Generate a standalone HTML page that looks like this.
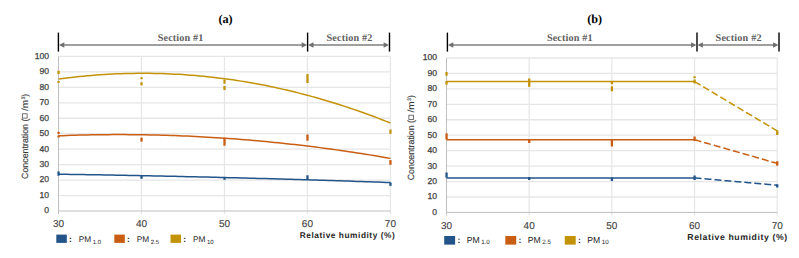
<!DOCTYPE html><html><head><meta charset="utf-8"><style>
html,body{margin:0;padding:0;background:#fff;width:799px;height:258px;overflow:hidden}
svg{display:block;text-rendering:geometricPrecision}
.tk{font-family:"Liberation Sans",sans-serif;font-size:8.6px;fill:#404040;stroke:#404040;stroke-width:0.25px}
.tkx{font-family:"Liberation Sans",sans-serif;font-size:10px;fill:#404040;stroke:#404040;stroke-width:0.12px}
.ttl{font-family:"Liberation Serif",serif;font-size:12.2px;font-weight:bold;fill:#000}
.sec{font-family:"Liberation Serif",serif;font-size:10.2px;font-weight:bold;fill:#5f5f5f}
.yt{font-family:"Liberation Sans",sans-serif;fill:#3a3a3a;stroke:#3a3a3a;stroke-width:0.15px}
.lg{font-family:"Liberation Sans",sans-serif;fill:#262626}
.rh{font-family:"Liberation Sans",sans-serif;font-weight:bold;fill:#262626}
</style></head><body>
<svg width="799" height="258" viewBox="0 0 799 258">
<line x1="58.50" y1="195.54" x2="390.40" y2="195.54" stroke="#E6E6E6" stroke-width="1.3"/>
<line x1="58.50" y1="180.08" x2="390.40" y2="180.08" stroke="#E6E6E6" stroke-width="1.3"/>
<line x1="58.50" y1="164.62" x2="390.40" y2="164.62" stroke="#E6E6E6" stroke-width="1.3"/>
<line x1="58.50" y1="149.16" x2="390.40" y2="149.16" stroke="#E6E6E6" stroke-width="1.3"/>
<line x1="58.50" y1="133.70" x2="390.40" y2="133.70" stroke="#E6E6E6" stroke-width="1.3"/>
<line x1="58.50" y1="118.24" x2="390.40" y2="118.24" stroke="#E6E6E6" stroke-width="1.3"/>
<line x1="58.50" y1="102.78" x2="390.40" y2="102.78" stroke="#E6E6E6" stroke-width="1.3"/>
<line x1="58.50" y1="87.32" x2="390.40" y2="87.32" stroke="#E6E6E6" stroke-width="1.3"/>
<line x1="58.50" y1="71.86" x2="390.40" y2="71.86" stroke="#E6E6E6" stroke-width="1.3"/>
<line x1="58.50" y1="56.40" x2="390.40" y2="56.40" stroke="#E6E6E6" stroke-width="1.3"/>
<line x1="141.47" y1="56.40" x2="141.47" y2="214.00" stroke="#E6E6E6" stroke-width="1.2"/>
<line x1="224.45" y1="56.40" x2="224.45" y2="214.00" stroke="#E6E6E6" stroke-width="1.2"/>
<line x1="307.42" y1="56.40" x2="307.42" y2="214.00" stroke="#E6E6E6" stroke-width="1.2"/>
<line x1="390.40" y1="56.40" x2="390.40" y2="214.00" stroke="#E6E6E6" stroke-width="1.2"/>
<line x1="58.50" y1="56.40" x2="58.50" y2="214.00" stroke="#BFBFBF" stroke-width="1"/>
<line x1="58.50" y1="211.00" x2="390.40" y2="211.00" stroke="#BFBFBF" stroke-width="1"/>
<text x="49.00" y="213.40" text-anchor="end" class="tk">0</text>
<text x="49.00" y="197.94" text-anchor="end" class="tk">10</text>
<text x="49.00" y="182.48" text-anchor="end" class="tk">20</text>
<text x="49.00" y="167.02" text-anchor="end" class="tk">30</text>
<text x="49.00" y="151.56" text-anchor="end" class="tk">40</text>
<text x="49.00" y="136.10" text-anchor="end" class="tk">50</text>
<text x="49.00" y="120.64" text-anchor="end" class="tk">60</text>
<text x="49.00" y="105.18" text-anchor="end" class="tk">70</text>
<text x="49.00" y="89.72" text-anchor="end" class="tk">80</text>
<text x="49.00" y="74.26" text-anchor="end" class="tk">90</text>
<text x="49.00" y="58.80" text-anchor="end" class="tk">100</text>
<text x="58.50" y="227.20" text-anchor="middle" class="tkx">30</text>
<text x="141.47" y="227.20" text-anchor="middle" class="tkx">40</text>
<text x="224.45" y="227.20" text-anchor="middle" class="tkx">50</text>
<text x="307.42" y="227.20" text-anchor="middle" class="tkx">60</text>
<text x="390.40" y="227.20" text-anchor="middle" class="tkx">70</text>
<text x="225.50" y="23" text-anchor="middle" class="ttl">(a)</text>
<line x1="58.40" y1="32.6" x2="58.40" y2="51.6" stroke="#000" stroke-width="1.4"/>
<line x1="307.60" y1="32.6" x2="307.60" y2="51.6" stroke="#000" stroke-width="1.4"/>
<line x1="389.50" y1="32.6" x2="389.50" y2="51.6" stroke="#000" stroke-width="1.4"/>
<line x1="61.40" y1="45.0" x2="304.60" y2="45.0" stroke="#7F7F7F" stroke-width="1.4"/>
<path d="M58.90,45.0 L64.30,42.2 L64.30,47.8 Z" fill="#6F6F6F"/>
<path d="M307.10,45.0 L301.70,42.2 L301.70,47.8 Z" fill="#6F6F6F"/>
<line x1="310.60" y1="45.0" x2="386.50" y2="45.0" stroke="#7F7F7F" stroke-width="1.4"/>
<path d="M308.10,45.0 L313.50,42.2 L313.50,47.8 Z" fill="#6F6F6F"/>
<path d="M389.00,45.0 L383.60,42.2 L383.60,47.8 Z" fill="#6F6F6F"/>
<text x="157.70" y="40.9" class="sec" textLength="45.6" lengthAdjust="spacing">Section #1</text>
<text x="326.50" y="40.9" class="sec" textLength="45.9" lengthAdjust="spacing">Section #2</text>
<text transform="translate(27.70,178.90) rotate(-90)" class="yt" font-size="9.0px" textLength="60.30" lengthAdjust="spacingAndGlyphs">Concentration (</text>
<rect x="22.50" y="113.80" width="4.6" height="4.3" fill="none" stroke="#505050" stroke-width="0.8"/>
<text transform="translate(27.70,111.10) rotate(-90)" class="yt" font-size="9.0px" textLength="11.20" lengthAdjust="spacingAndGlyphs">/m</text>
<text transform="translate(24.70,99.30) rotate(-90)" class="yt" font-size="5.2px" textLength="2.60" lengthAdjust="spacingAndGlyphs">3</text>
<text transform="translate(27.70,96.70) rotate(-90)" class="yt" font-size="9.0px" textLength="2.90" lengthAdjust="spacingAndGlyphs">)</text>
<rect x="56.30" y="234.60" width="10.50" height="8.30" fill="#235489"/>
<text x="69.00" y="242.20" class="lg" font-weight="bold" font-size="8.30px">:</text>
<text x="78.80" y="242.20" class="lg" font-size="8.30px">PM<tspan dx="1.5" dy="1.5" font-size="6.00px">1.0</tspan></text>
<rect x="114.30" y="234.60" width="10.50" height="8.30" fill="#C95D13"/>
<text x="127.00" y="242.20" class="lg" font-weight="bold" font-size="8.30px">:</text>
<text x="136.80" y="242.20" class="lg" font-size="8.30px">PM<tspan dx="1.5" dy="1.5" font-size="6.00px">2.5</tspan></text>
<rect x="170.50" y="234.60" width="10.50" height="8.30" fill="#C29308"/>
<text x="183.20" y="242.20" class="lg" font-weight="bold" font-size="8.30px">:</text>
<text x="193.00" y="242.20" class="lg" font-size="8.30px">PM<tspan dx="1.5" dy="1.5" font-size="6.00px">10</tspan></text>
<text x="299.80" y="238.00" class="rh" font-size="8.30px" letter-spacing="0.55px">Relative humidity (%)</text>
<line x1="446.50" y1="196.99" x2="777.20" y2="196.99" stroke="#E6E6E6" stroke-width="1.3"/>
<line x1="446.50" y1="181.54" x2="777.20" y2="181.54" stroke="#E6E6E6" stroke-width="1.3"/>
<line x1="446.50" y1="166.10" x2="777.20" y2="166.10" stroke="#E6E6E6" stroke-width="1.3"/>
<line x1="446.50" y1="150.65" x2="777.20" y2="150.65" stroke="#E6E6E6" stroke-width="1.3"/>
<line x1="446.50" y1="135.21" x2="777.20" y2="135.21" stroke="#E6E6E6" stroke-width="1.3"/>
<line x1="446.50" y1="119.77" x2="777.20" y2="119.77" stroke="#E6E6E6" stroke-width="1.3"/>
<line x1="446.50" y1="104.32" x2="777.20" y2="104.32" stroke="#E6E6E6" stroke-width="1.3"/>
<line x1="446.50" y1="88.88" x2="777.20" y2="88.88" stroke="#E6E6E6" stroke-width="1.3"/>
<line x1="446.50" y1="73.43" x2="777.20" y2="73.43" stroke="#E6E6E6" stroke-width="1.3"/>
<line x1="446.50" y1="57.99" x2="777.20" y2="57.99" stroke="#E6E6E6" stroke-width="1.3"/>
<line x1="529.17" y1="57.99" x2="529.17" y2="215.43" stroke="#E6E6E6" stroke-width="1.2"/>
<line x1="611.85" y1="57.99" x2="611.85" y2="215.43" stroke="#E6E6E6" stroke-width="1.2"/>
<line x1="694.53" y1="57.99" x2="694.53" y2="215.43" stroke="#E6E6E6" stroke-width="1.2"/>
<line x1="777.20" y1="57.99" x2="777.20" y2="215.43" stroke="#E6E6E6" stroke-width="1.2"/>
<line x1="446.50" y1="57.99" x2="446.50" y2="215.43" stroke="#BFBFBF" stroke-width="1"/>
<line x1="446.50" y1="212.43" x2="777.20" y2="212.43" stroke="#BFBFBF" stroke-width="1"/>
<text x="437.00" y="214.83" text-anchor="end" class="tk">0</text>
<text x="437.00" y="199.39" text-anchor="end" class="tk">10</text>
<text x="437.00" y="183.94" text-anchor="end" class="tk">20</text>
<text x="437.00" y="168.50" text-anchor="end" class="tk">30</text>
<text x="437.00" y="153.05" text-anchor="end" class="tk">40</text>
<text x="437.00" y="137.61" text-anchor="end" class="tk">50</text>
<text x="437.00" y="122.17" text-anchor="end" class="tk">60</text>
<text x="437.00" y="106.72" text-anchor="end" class="tk">70</text>
<text x="437.00" y="91.28" text-anchor="end" class="tk">80</text>
<text x="437.00" y="75.83" text-anchor="end" class="tk">90</text>
<text x="437.00" y="60.39" text-anchor="end" class="tk">100</text>
<text x="446.50" y="228.63" text-anchor="middle" class="tkx">30</text>
<text x="529.17" y="228.63" text-anchor="middle" class="tkx">40</text>
<text x="611.85" y="228.63" text-anchor="middle" class="tkx">50</text>
<text x="694.53" y="228.63" text-anchor="middle" class="tkx">60</text>
<text x="777.20" y="228.63" text-anchor="middle" class="tkx">70</text>
<text x="594.70" y="23" text-anchor="middle" class="ttl">(b)</text>
<line x1="447.40" y1="32.6" x2="447.40" y2="51.6" stroke="#000" stroke-width="1.4"/>
<line x1="697.00" y1="32.6" x2="697.00" y2="51.6" stroke="#000" stroke-width="1.4"/>
<line x1="779.00" y1="32.6" x2="779.00" y2="51.6" stroke="#000" stroke-width="1.4"/>
<line x1="450.40" y1="45.0" x2="694.00" y2="45.0" stroke="#7F7F7F" stroke-width="1.4"/>
<path d="M447.90,45.0 L453.30,42.2 L453.30,47.8 Z" fill="#6F6F6F"/>
<path d="M696.50,45.0 L691.10,42.2 L691.10,47.8 Z" fill="#6F6F6F"/>
<line x1="700.00" y1="45.0" x2="776.00" y2="45.0" stroke="#7F7F7F" stroke-width="1.4"/>
<path d="M697.50,45.0 L702.90,42.2 L702.90,47.8 Z" fill="#6F6F6F"/>
<path d="M778.50,45.0 L773.10,42.2 L773.10,47.8 Z" fill="#6F6F6F"/>
<text x="546.90" y="40.9" class="sec" textLength="45.6" lengthAdjust="spacing">Section #1</text>
<text x="715.60" y="40.9" class="sec" textLength="45.9" lengthAdjust="spacing">Section #2</text>
<text transform="translate(414.10,180.30) rotate(-90)" class="yt" font-size="9.0px" textLength="60.30" lengthAdjust="spacingAndGlyphs">Concentration (</text>
<rect x="408.90" y="115.20" width="4.6" height="4.3" fill="none" stroke="#505050" stroke-width="0.8"/>
<text transform="translate(414.10,112.50) rotate(-90)" class="yt" font-size="9.0px" textLength="11.20" lengthAdjust="spacingAndGlyphs">/m</text>
<text transform="translate(411.10,100.70) rotate(-90)" class="yt" font-size="5.2px" textLength="2.60" lengthAdjust="spacingAndGlyphs">3</text>
<text transform="translate(414.10,98.10) rotate(-90)" class="yt" font-size="9.0px" textLength="2.90" lengthAdjust="spacingAndGlyphs">)</text>
<rect x="444.20" y="236.00" width="10.92" height="8.63" fill="#235489"/>
<text x="457.42" y="242.90" class="lg" font-weight="bold" font-size="8.63px">:</text>
<text x="466.70" y="242.90" class="lg" font-size="8.63px">PM<tspan dx="1.5" dy="1.5" font-size="6.24px">1.0</tspan></text>
<rect x="505.30" y="236.00" width="10.92" height="8.63" fill="#C95D13"/>
<text x="518.52" y="242.90" class="lg" font-weight="bold" font-size="8.63px">:</text>
<text x="527.80" y="242.90" class="lg" font-size="8.63px">PM<tspan dx="1.5" dy="1.5" font-size="6.24px">2.5</tspan></text>
<rect x="564.80" y="236.00" width="10.92" height="8.63" fill="#C29308"/>
<text x="578.02" y="242.90" class="lg" font-weight="bold" font-size="8.63px">:</text>
<text x="587.30" y="242.90" class="lg" font-size="8.63px">PM<tspan dx="1.5" dy="1.5" font-size="6.24px">10</tspan></text>
<text x="687.30" y="240.00" class="rh" font-size="8.70px" letter-spacing="0.60px">Relative humidity (%)</text>
<path d="M58.50,79.09 L62.65,78.53 L66.80,78.01 L70.95,77.51 L75.09,77.04 L79.24,76.60 L83.39,76.18 L87.54,75.80 L91.69,75.44 L95.84,75.11 L99.99,74.80 L104.14,74.53 L108.28,74.28 L112.43,74.06 L116.58,73.87 L120.73,73.71 L124.88,73.57 L129.03,73.47 L133.18,73.39 L137.33,73.33 L141.47,73.31 L145.62,73.32 L149.77,73.35 L153.92,73.41 L158.07,73.50 L162.22,73.61 L166.37,73.76 L170.52,73.93 L174.66,74.13 L178.81,74.36 L182.96,74.61 L187.11,74.90 L191.26,75.21 L195.41,75.55 L199.56,75.91 L203.71,76.31 L207.85,76.73 L212.00,77.18 L216.15,77.66 L220.30,78.17 L224.45,78.71 L228.60,79.27 L232.75,79.86 L236.90,80.48 L241.05,81.13 L245.19,81.80 L249.34,82.50 L253.49,83.23 L257.64,83.99 L261.79,84.78 L265.94,85.59 L270.09,86.44 L274.24,87.31 L278.38,88.20 L282.53,89.13 L286.68,90.09 L290.83,91.07 L294.98,92.08 L299.13,93.12 L303.28,94.18 L307.42,95.27 L311.57,96.40 L315.72,97.55 L319.87,98.72 L324.02,99.93 L328.17,101.16 L332.32,102.42 L336.47,103.71 L340.61,105.03 L344.76,106.38 L348.91,107.75 L353.06,109.15 L357.21,110.58 L361.36,112.04 L365.51,113.52 L369.66,115.03 L373.80,116.57 L377.95,118.14 L382.10,119.74 L386.25,121.36 L390.40,123.02" fill="none" stroke="#C29308" stroke-width="1.5"/>
<path d="M58.50,135.79 L62.65,135.63 L66.80,135.48 L70.95,135.35 L75.09,135.22 L79.24,135.11 L83.39,135.01 L87.54,134.92 L91.69,134.84 L95.84,134.77 L99.99,134.72 L104.14,134.67 L108.28,134.64 L112.43,134.61 L116.58,134.60 L120.73,134.60 L124.88,134.61 L129.03,134.63 L133.18,134.66 L137.33,134.71 L141.47,134.76 L145.62,134.83 L149.77,134.90 L153.92,134.99 L158.07,135.09 L162.22,135.20 L166.37,135.32 L170.52,135.45 L174.66,135.60 L178.81,135.75 L182.96,135.92 L187.11,136.09 L191.26,136.28 L195.41,136.48 L199.56,136.69 L203.71,136.91 L207.85,137.15 L212.00,137.39 L216.15,137.64 L220.30,137.91 L224.45,138.19 L228.60,138.47 L232.75,138.77 L236.90,139.08 L241.05,139.41 L245.19,139.74 L249.34,140.08 L253.49,140.44 L257.64,140.80 L261.79,141.18 L265.94,141.57 L270.09,141.97 L274.24,142.38 L278.38,142.80 L282.53,143.23 L286.68,143.67 L290.83,144.13 L294.98,144.60 L299.13,145.07 L303.28,145.56 L307.42,146.06 L311.57,146.57 L315.72,147.09 L319.87,147.62 L324.02,148.17 L328.17,148.72 L332.32,149.29 L336.47,149.87 L340.61,150.45 L344.76,151.05 L348.91,151.66 L353.06,152.29 L357.21,152.92 L361.36,153.56 L365.51,154.22 L369.66,154.88 L373.80,155.56 L377.95,156.25 L382.10,156.95 L386.25,157.66 L390.40,158.38" fill="none" stroke="#C95D13" stroke-width="1.5"/>
<path d="M58.50,174.20 L62.65,174.26 L66.80,174.33 L70.95,174.39 L75.09,174.46 L79.24,174.52 L83.39,174.59 L87.54,174.66 L91.69,174.73 L95.84,174.80 L99.99,174.87 L104.14,174.94 L108.28,175.02 L112.43,175.09 L116.58,175.17 L120.73,175.25 L124.88,175.33 L129.03,175.41 L133.18,175.49 L137.33,175.57 L141.47,175.65 L145.62,175.73 L149.77,175.82 L153.92,175.90 L158.07,175.99 L162.22,176.08 L166.37,176.17 L170.52,176.26 L174.66,176.35 L178.81,176.44 L182.96,176.53 L187.11,176.63 L191.26,176.72 L195.41,176.82 L199.56,176.92 L203.71,177.01 L207.85,177.11 L212.00,177.21 L216.15,177.32 L220.30,177.42 L224.45,177.52 L228.60,177.63 L232.75,177.73 L236.90,177.84 L241.05,177.95 L245.19,178.06 L249.34,178.17 L253.49,178.28 L257.64,178.39 L261.79,178.50 L265.94,178.62 L270.09,178.73 L274.24,178.85 L278.38,178.97 L282.53,179.08 L286.68,179.20 L290.83,179.32 L294.98,179.45 L299.13,179.57 L303.28,179.69 L307.42,179.82 L311.57,179.94 L315.72,180.07 L319.87,180.20 L324.02,180.33 L328.17,180.46 L332.32,180.59 L336.47,180.72 L340.61,180.85 L344.76,180.99 L348.91,181.12 L353.06,181.26 L357.21,181.40 L361.36,181.54 L365.51,181.68 L369.66,181.82 L373.80,181.96 L377.95,182.10 L382.10,182.24 L386.25,182.39 L390.40,182.53" fill="none" stroke="#235489" stroke-width="1.5"/>
<rect x="57.40" y="70.80" width="2.3" height="3.30" fill="#C29308"/>
<rect x="57.40" y="81.00" width="2.3" height="2.00" fill="#C29308"/>
<rect x="140.38" y="77.20" width="2.3" height="2.00" fill="#C29308"/>
<rect x="140.38" y="82.20" width="2.3" height="3.10" fill="#C29308"/>
<rect x="223.35" y="79.60" width="2.3" height="4.10" fill="#C29308"/>
<rect x="223.35" y="86.00" width="2.3" height="4.10" fill="#C29308"/>
<rect x="306.32" y="74.10" width="2.3" height="8.90" fill="#C29308"/>
<rect x="389.30" y="129.50" width="2.3" height="4.30" fill="#C29308"/>
<rect x="57.40" y="131.80" width="2.3" height="2.20" fill="#C95D13"/>
<rect x="57.40" y="135.50" width="2.3" height="2.00" fill="#C95D13"/>
<rect x="140.38" y="137.60" width="2.3" height="4.00" fill="#C95D13"/>
<rect x="223.35" y="137.80" width="2.3" height="7.90" fill="#C95D13"/>
<rect x="306.32" y="134.50" width="2.3" height="6.20" fill="#C95D13"/>
<rect x="389.30" y="160.10" width="2.3" height="4.70" fill="#C95D13"/>
<rect x="57.40" y="171.40" width="2.3" height="4.30" fill="#235489"/>
<rect x="140.38" y="176.00" width="2.3" height="2.80" fill="#235489"/>
<rect x="223.35" y="177.00" width="2.3" height="2.80" fill="#235489"/>
<rect x="306.32" y="175.30" width="2.3" height="4.50" fill="#235489"/>
<rect x="389.30" y="182.50" width="2.3" height="3.40" fill="#235489"/>
<path d="M446.50,81.54 L449.60,81.54 L452.70,81.54 L455.80,81.54 L458.90,81.54 L462.00,81.54 L465.10,81.54 L468.20,81.54 L471.30,81.54 L474.40,81.54 L477.50,81.54 L480.60,81.54 L483.70,81.54 L486.80,81.54 L489.90,81.54 L493.00,81.54 L496.11,81.54 L499.21,81.54 L502.31,81.54 L505.41,81.54 L508.51,81.54 L511.61,81.54 L514.71,81.54 L517.81,81.54 L520.91,81.54 L524.01,81.54 L527.11,81.54 L530.21,81.54 L533.31,81.54 L536.41,81.54 L539.51,81.54 L542.61,81.54 L545.71,81.54 L548.81,81.54 L551.91,81.54 L555.01,81.54 L558.11,81.54 L561.21,81.54 L564.31,81.54 L567.41,81.54 L570.51,81.54 L573.61,81.54 L576.71,81.54 L579.81,81.54 L582.91,81.54 L586.01,81.54 L589.11,81.54 L592.21,81.54 L595.32,81.54 L598.42,81.54 L601.52,81.54 L604.62,81.54 L607.72,81.54 L610.82,81.54 L613.92,81.54 L617.02,81.54 L620.12,81.54 L623.22,81.54 L626.32,81.54 L629.42,81.54 L632.52,81.54 L635.62,81.54 L638.72,81.54 L641.82,81.54 L644.92,81.54 L648.02,81.54 L651.12,81.54 L654.22,81.54 L657.32,81.54 L660.42,81.54 L663.52,81.54 L666.62,81.54 L669.72,81.54 L672.82,81.54 L675.92,81.54 L679.02,81.54 L682.12,81.54 L685.22,81.54 L688.32,81.54 L691.42,81.54 L694.53,81.54" fill="none" stroke="#C29308" stroke-width="1.5"/>
<path d="M694.53,81.54 L695.56,82.16 L696.59,82.78 L697.63,83.39 L698.66,84.01 L699.69,84.63 L700.73,85.24 L701.76,85.86 L702.79,86.48 L703.83,87.09 L704.86,87.71 L705.89,88.33 L706.93,88.95 L707.96,89.56 L708.99,90.18 L710.03,90.80 L711.06,91.41 L712.09,92.03 L713.13,92.65 L714.16,93.26 L715.19,93.88 L716.23,94.50 L717.26,95.12 L718.29,95.73 L719.33,96.35 L720.36,96.97 L721.39,97.58 L722.43,98.20 L723.46,98.82 L724.49,99.43 L725.53,100.05 L726.56,100.67 L727.60,101.29 L728.63,101.90 L729.66,102.52 L730.70,103.14 L731.73,103.75 L732.76,104.37 L733.80,104.99 L734.83,105.60 L735.86,106.22 L736.90,106.84 L737.93,107.46 L738.96,108.07 L740.00,108.69 L741.03,109.31 L742.06,109.92 L743.10,110.54 L744.13,111.16 L745.16,111.77 L746.20,112.39 L747.23,113.01 L748.26,113.63 L749.30,114.24 L750.33,114.86 L751.36,115.48 L752.40,116.09 L753.43,116.71 L754.46,117.33 L755.50,117.94 L756.53,118.56 L757.56,119.18 L758.60,119.80 L759.63,120.41 L760.66,121.03 L761.70,121.65 L762.73,122.26 L763.77,122.88 L764.80,123.50 L765.83,124.11 L766.87,124.73 L767.90,125.35 L768.93,125.97 L769.97,126.58 L771.00,127.20 L772.03,127.82 L773.07,128.43 L774.10,129.05 L775.13,129.67 L776.17,130.28 L777.20,130.90" fill="none" stroke="#C29308" stroke-width="1.5" stroke-dasharray="7,3"/>
<path d="M446.50,139.70 L449.60,139.70 L452.70,139.70 L455.80,139.70 L458.90,139.70 L462.00,139.70 L465.10,139.70 L468.20,139.70 L471.30,139.70 L474.40,139.70 L477.50,139.70 L480.60,139.70 L483.70,139.70 L486.80,139.70 L489.90,139.70 L493.00,139.70 L496.11,139.70 L499.21,139.70 L502.31,139.70 L505.41,139.70 L508.51,139.70 L511.61,139.70 L514.71,139.70 L517.81,139.70 L520.91,139.70 L524.01,139.70 L527.11,139.70 L530.21,139.70 L533.31,139.70 L536.41,139.70 L539.51,139.70 L542.61,139.70 L545.71,139.70 L548.81,139.70 L551.91,139.70 L555.01,139.70 L558.11,139.70 L561.21,139.70 L564.31,139.70 L567.41,139.70 L570.51,139.70 L573.61,139.70 L576.71,139.70 L579.81,139.70 L582.91,139.70 L586.01,139.70 L589.11,139.70 L592.21,139.70 L595.32,139.70 L598.42,139.70 L601.52,139.70 L604.62,139.70 L607.72,139.70 L610.82,139.70 L613.92,139.70 L617.02,139.70 L620.12,139.70 L623.22,139.70 L626.32,139.70 L629.42,139.70 L632.52,139.70 L635.62,139.70 L638.72,139.70 L641.82,139.70 L644.92,139.70 L648.02,139.70 L651.12,139.70 L654.22,139.70 L657.32,139.70 L660.42,139.70 L663.52,139.70 L666.62,139.70 L669.72,139.70 L672.82,139.70 L675.92,139.70 L679.02,139.70 L682.12,139.70 L685.22,139.70 L688.32,139.70 L691.42,139.70 L694.53,139.70" fill="none" stroke="#C95D13" stroke-width="1.5"/>
<path d="M694.53,139.70 L695.56,140.00 L696.59,140.30 L697.63,140.59 L698.66,140.89 L699.69,141.18 L700.73,141.48 L701.76,141.78 L702.79,142.07 L703.83,142.37 L704.86,142.67 L705.89,142.96 L706.93,143.26 L707.96,143.55 L708.99,143.85 L710.03,144.15 L711.06,144.44 L712.09,144.74 L713.13,145.03 L714.16,145.33 L715.19,145.63 L716.23,145.92 L717.26,146.22 L718.29,146.52 L719.33,146.81 L720.36,147.11 L721.39,147.40 L722.43,147.70 L723.46,148.00 L724.49,148.29 L725.53,148.59 L726.56,148.88 L727.60,149.18 L728.63,149.48 L729.66,149.77 L730.70,150.07 L731.73,150.37 L732.76,150.66 L733.80,150.96 L734.83,151.25 L735.86,151.55 L736.90,151.85 L737.93,152.14 L738.96,152.44 L740.00,152.73 L741.03,153.03 L742.06,153.33 L743.10,153.62 L744.13,153.92 L745.16,154.22 L746.20,154.51 L747.23,154.81 L748.26,155.10 L749.30,155.40 L750.33,155.70 L751.36,155.99 L752.40,156.29 L753.43,156.58 L754.46,156.88 L755.50,157.18 L756.53,157.47 L757.56,157.77 L758.60,158.06 L759.63,158.36 L760.66,158.66 L761.70,158.95 L762.73,159.25 L763.77,159.55 L764.80,159.84 L765.83,160.14 L766.87,160.43 L767.90,160.73 L768.93,161.03 L769.97,161.32 L771.00,161.62 L772.03,161.91 L773.07,162.21 L774.10,162.51 L775.13,162.80 L776.17,163.10 L777.20,163.40" fill="none" stroke="#C95D13" stroke-width="1.5" stroke-dasharray="7,3"/>
<path d="M446.50,177.90 L449.60,177.90 L452.70,177.90 L455.80,177.90 L458.90,177.90 L462.00,177.90 L465.10,177.90 L468.20,177.90 L471.30,177.90 L474.40,177.90 L477.50,177.90 L480.60,177.90 L483.70,177.90 L486.80,177.90 L489.90,177.90 L493.00,177.90 L496.11,177.90 L499.21,177.90 L502.31,177.90 L505.41,177.90 L508.51,177.90 L511.61,177.90 L514.71,177.90 L517.81,177.90 L520.91,177.90 L524.01,177.90 L527.11,177.90 L530.21,177.90 L533.31,177.90 L536.41,177.90 L539.51,177.90 L542.61,177.90 L545.71,177.90 L548.81,177.90 L551.91,177.90 L555.01,177.90 L558.11,177.90 L561.21,177.90 L564.31,177.90 L567.41,177.90 L570.51,177.90 L573.61,177.90 L576.71,177.90 L579.81,177.90 L582.91,177.90 L586.01,177.90 L589.11,177.90 L592.21,177.90 L595.32,177.90 L598.42,177.90 L601.52,177.90 L604.62,177.90 L607.72,177.90 L610.82,177.90 L613.92,177.90 L617.02,177.90 L620.12,177.90 L623.22,177.90 L626.32,177.90 L629.42,177.90 L632.52,177.90 L635.62,177.90 L638.72,177.90 L641.82,177.90 L644.92,177.90 L648.02,177.90 L651.12,177.90 L654.22,177.90 L657.32,177.90 L660.42,177.90 L663.52,177.90 L666.62,177.90 L669.72,177.90 L672.82,177.90 L675.92,177.90 L679.02,177.90 L682.12,177.90 L685.22,177.90 L688.32,177.90 L691.42,177.90 L694.53,177.90" fill="none" stroke="#235489" stroke-width="1.5"/>
<path d="M694.53,177.90 L695.56,177.99 L696.59,178.08 L697.63,178.17 L698.66,178.26 L699.69,178.35 L700.73,178.45 L701.76,178.54 L702.79,178.63 L703.83,178.72 L704.86,178.81 L705.89,178.90 L706.93,178.99 L707.96,179.08 L708.99,179.18 L710.03,179.27 L711.06,179.36 L712.09,179.45 L713.13,179.54 L714.16,179.63 L715.19,179.72 L716.23,179.81 L717.26,179.91 L718.29,180.00 L719.33,180.09 L720.36,180.18 L721.39,180.27 L722.43,180.36 L723.46,180.45 L724.49,180.55 L725.53,180.64 L726.56,180.73 L727.60,180.82 L728.63,180.91 L729.66,181.00 L730.70,181.09 L731.73,181.18 L732.76,181.28 L733.80,181.37 L734.83,181.46 L735.86,181.55 L736.90,181.64 L737.93,181.73 L738.96,181.82 L740.00,181.91 L741.03,182.01 L742.06,182.10 L743.10,182.19 L744.13,182.28 L745.16,182.37 L746.20,182.46 L747.23,182.55 L748.26,182.65 L749.30,182.74 L750.33,182.83 L751.36,182.92 L752.40,183.01 L753.43,183.10 L754.46,183.19 L755.50,183.28 L756.53,183.38 L757.56,183.47 L758.60,183.56 L759.63,183.65 L760.66,183.74 L761.70,183.83 L762.73,183.92 L763.77,184.02 L764.80,184.11 L765.83,184.20 L766.87,184.29 L767.90,184.38 L768.93,184.47 L769.97,184.56 L771.00,184.65 L772.03,184.75 L773.07,184.84 L774.10,184.93 L775.13,185.02 L776.17,185.11 L777.20,185.20" fill="none" stroke="#235489" stroke-width="1.5" stroke-dasharray="7,3"/>
<rect x="445.40" y="72.00" width="2.3" height="3.70" fill="#C29308"/>
<rect x="445.40" y="81.10" width="2.3" height="3.50" fill="#C29308"/>
<rect x="528.07" y="78.50" width="2.3" height="8.30" fill="#C29308"/>
<rect x="610.75" y="81.80" width="2.3" height="2.40" fill="#C29308"/>
<rect x="610.75" y="86.30" width="2.3" height="5.00" fill="#C29308"/>
<rect x="693.43" y="76.20" width="2.3" height="2.00" fill="#C29308"/>
<rect x="693.43" y="79.50" width="2.3" height="4.00" fill="#C29308"/>
<rect x="776.10" y="130.40" width="2.3" height="4.60" fill="#C29308"/>
<rect x="445.40" y="133.30" width="2.3" height="6.20" fill="#C95D13"/>
<rect x="528.07" y="139.30" width="2.3" height="3.70" fill="#C95D13"/>
<rect x="610.75" y="139.80" width="2.3" height="6.70" fill="#C95D13"/>
<rect x="693.43" y="136.50" width="2.3" height="4.50" fill="#C95D13"/>
<rect x="776.10" y="161.20" width="2.3" height="4.50" fill="#C95D13"/>
<rect x="445.40" y="172.50" width="2.3" height="5.10" fill="#235489"/>
<rect x="528.07" y="177.00" width="2.3" height="3.00" fill="#235489"/>
<rect x="610.75" y="177.50" width="2.3" height="3.50" fill="#235489"/>
<rect x="693.43" y="175.50" width="2.3" height="4.50" fill="#235489"/>
<rect x="776.10" y="184.30" width="2.3" height="3.20" fill="#235489"/>
</svg></body></html>
